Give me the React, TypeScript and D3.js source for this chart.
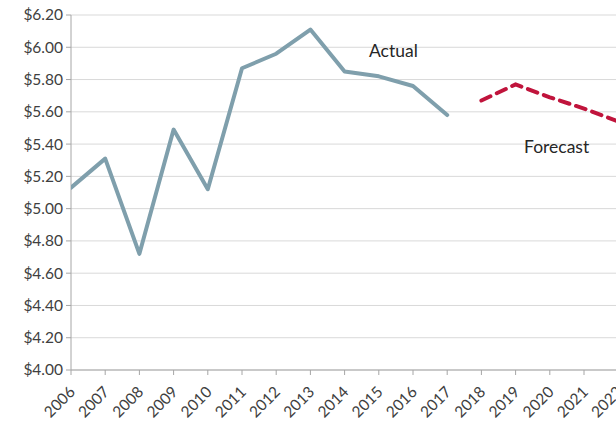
import React from 'react';
import * as d3 from 'd3';

const years = ['2006', '2007', '2008', '2009', '2010', '2011', '2012', '2013', '2014', '2015', '2016', '2017', '2018', '2019', '2020', '2021', '2022'];
const actualYears = ['2006', '2007', '2008', '2009', '2010', '2011', '2012', '2013', '2014', '2015', '2016', '2017'];
const actualValues = [5.13, 5.31, 4.72, 5.49, 5.12, 5.87, 5.96, 6.11, 5.85, 5.82, 5.76, 5.58];
const forecastYears = ['2018', '2019', '2020', '2021', '2022'];
const forecastValues = [5.67, 5.77, 5.69, 5.62, 5.54];
const yTicks = [4.0, 4.2, 4.4, 4.6, 4.8, 5.0, 5.2, 5.4, 5.6, 5.8, 6.0, 6.2];

const width = 616;
const height = 425;
const left = 71;
const top = 15;
const bottom = 370;

const App = () => {
  const x = d3.scalePoint<string>().domain(years).range([left, left + 16 * 34.2]);
  const y = d3.scaleLinear().domain([4, 6.2]).range([bottom, top]);

  const line = d3.line<number>()
    .x((d, i) => x(actualYears[i]) as number)
    .y(d => y(d));
  const fLine = d3.line<number>()
    .x((d, i) => x(forecastYears[i]) as number)
    .y(d => y(d));

  const font = 'Lato, "Open Sans", sans-serif';

  return (
    <svg width={width} height={height} style={{ position: 'absolute', left: 0, top: 0 }}>
      <defs>
        <clipPath id="plot">
          <rect x={left} y={0} width={width - left} height={bottom + 2} />
        </clipPath>
      </defs>
      {/* gridlines */}
      {yTicks.map(t => (
        <line key={t} x1={left} x2={width} y1={y(t)} y2={y(t)} stroke="#d9d9d9" strokeWidth={1} />
      ))}
      {/* y axis */}
      <line x1={left} x2={left} y1={top} y2={bottom} stroke="#a6a6a6" />
      {yTicks.map(t => (
        <g key={'yt' + t}>
          <line x1={left - 5} x2={left} y1={y(t)} y2={y(t)} stroke="#a6a6a6" />
          <text x={left - 8} y={y(t)} dy="0.35em" textAnchor="end" fontFamily={font} fontSize={15.5} fill="#404040">
            {d3.format('$.2f')(t)}
          </text>
        </g>
      ))}
      {/* x axis */}
      <line x1={left} x2={width} y1={bottom} y2={bottom} stroke="#a6a6a6" />
      {years.map(yr => (
        <g key={yr}>
          <line x1={x(yr)} x2={x(yr)} y1={bottom} y2={bottom + 5} stroke="#a6a6a6" />
          <text
            transform={`translate(${(x(yr) as number) + 5},${bottom + 23}) rotate(-45)`}
            textAnchor="end"
            fontFamily={font}
            fontSize={15.5}
            fill="#404040"
          >
            {yr}
          </text>
        </g>
      ))}
      <g clipPath="url(#plot)">
        <path d={line(actualValues) ?? ''} fill="none" stroke="#7f9fac" strokeWidth={4} strokeLinejoin="round" strokeLinecap="round" />
        <path d={fLine(forecastValues) ?? ''} fill="none" stroke="#c0143c" strokeWidth={4} strokeDasharray="10 7" strokeLinecap="round" />
      </g>
      <text x={369} y={57} fontFamily={font} fontSize={17.5} fill="#262626">Actual</text>
      <text x={524} y={153} fontFamily={font} fontSize={17.5} fill="#262626">Forecast</text>
    </svg>
  );
};

export default App;
